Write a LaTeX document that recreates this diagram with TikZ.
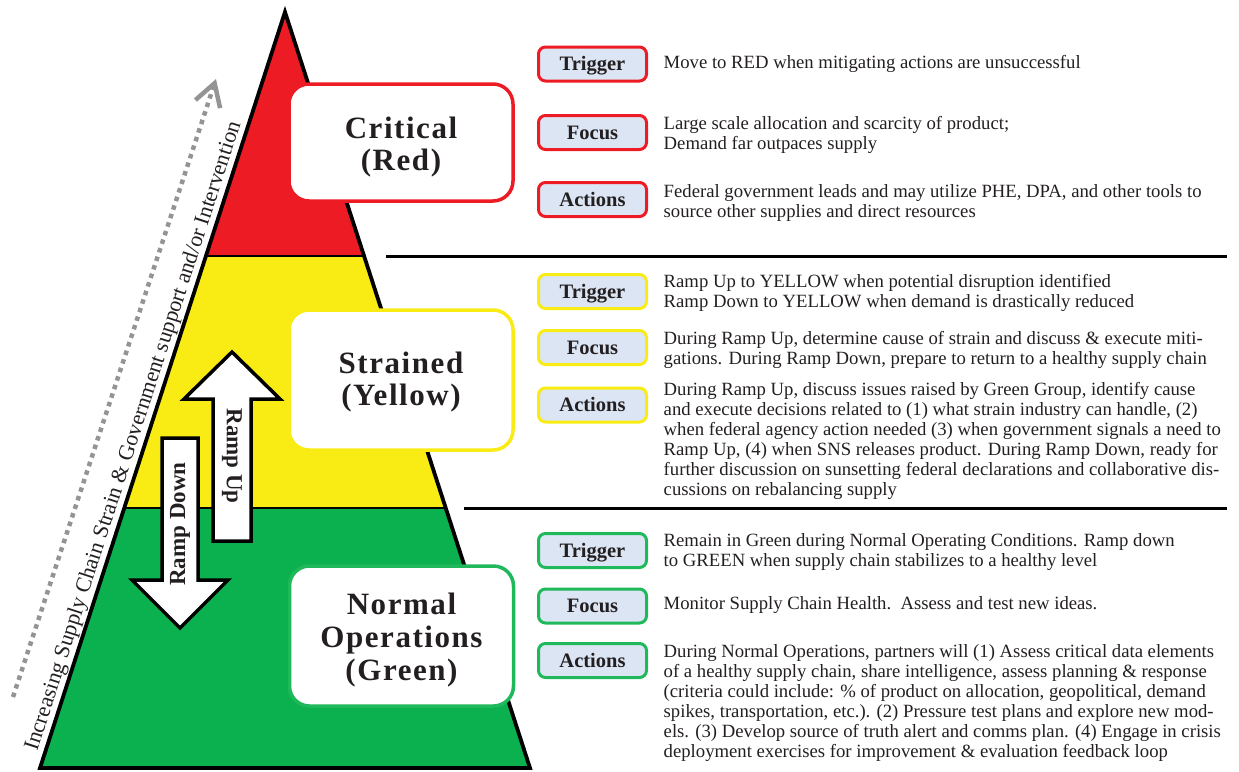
\documentclass[tikz,border=0pt]{standalone}
\usepackage{fontspec}
\setmainfont{Liberation Serif}
\newfontfamily\titlefont[LetterSpace=5]{Liberation Serif}
\usetikzlibrary{arrows.meta,calc}
\definecolor{pyrred}{HTML}{ED1C24}
\definecolor{pyryel}{HTML}{F9EC15}
\definecolor{pyrgrn}{HTML}{0BB14F}
\definecolor{boxgrn}{HTML}{1FB85A}
\definecolor{lblfill}{HTML}{DBE5F3}
\definecolor{txt}{HTML}{231F20}
\definecolor{dotgray}{HTML}{949494}
\begin{document}
\begin{tikzpicture}[x=1pt,y=-1pt,
  bigbox/.style={draw=#1, line width=3.5pt, fill=white, rounded corners=20pt, minimum width=224pt, inner sep=0pt},
  lbl/.style={draw=#1, line width=3pt, fill=lblfill, rounded corners=7pt, minimum width=108pt, minimum height=34pt, inner sep=0pt, font=\fontsize{20.5}{24}\selectfont\bfseries, text=txt, text height=13.6pt, text depth=0pt},
  body/.style={anchor=north west, inner sep=0pt, align=left, font=\fontsize{18.7}{20}\selectfont, text=txt},
  title/.style={align=center, inner sep=0pt, text=txt, font=\fontsize{31}{#1}\titlefont\bfseries},
  ramp/.style={fill=white, draw=black, line width=3.5pt, line join=miter},
  ramptext/.style={font=\fontsize{23}{26}\selectfont\bfseries, text=txt, inner sep=0pt},
  sep/.style={line width=3pt}
]
\useasboundingbox (0,0) rectangle (1239,771);

% pyramid
\coordinate (A) at (285,12);
\coordinate (L) at (40,768);
\coordinate (R) at (530,768);
\coordinate (L1) at ($(L)!0.6772!(A)$);
\coordinate (R1) at ($(R)!0.6772!(A)$);
\coordinate (L2) at ($(L)!0.3439!(A)$);
\coordinate (R2) at ($(R)!0.3439!(A)$);
\fill[pyrred] (A) -- (L1) -- (R1) -- cycle;
\fill[pyryel] (L1) -- (R1) -- (R2) -- (L2) -- cycle;
\fill[pyrgrn] (L2) -- (R2) -- (R) -- (L) -- cycle;
\draw[line width=2.5pt] (L1) -- (R1) (L2) -- (R2);
\draw[line width=3.8pt, line join=miter, miter limit=10] (A) -- (L) -- (R) -- cycle;

% separators
\draw[sep] (386,256) -- (1227,256);
\draw[sep] (464,508) -- (1227,508);

% dotted axis arrow and its text
\coordinate (gs) at (13,697);
\coordinate (ge) at (216,79);
\draw[dotgray, line width=4.5pt, dash pattern=on 4.5pt off 4.5pt,
  -{Straight Barb[length=22pt,width=26pt,line width=4.5pt]}] (gs) -- (ge);
\node[font=\fontsize{22}{26}\selectfont, text=txt, rotate=72.04, anchor=base, inner sep=0pt] (axis) at (138.9,437.9)
  {Increasing Supply Chain Strain \& Government support and/or Intervention};

% ramp arrows
\draw[ramp] (213,541) -- (213,399) -- (184,399) -- (232,352) -- (280,399) -- (251,399) -- (251,541) -- cycle;
\node[ramptext, rotate=-90] (up) at (232,456) {Ramp Up};
\draw[ramp] (162,438) -- (198,438) -- (198,580) -- (228,580) -- (180,628) -- (132,580) -- (162,580) -- cycle;
\node[ramptext, rotate=90] (down) at (180,524) {Ramp Down};

% level boxes
\node[bigbox=pyrred, minimum height=117pt] (crit) at (401,142.5) {};
\node[title=32] (critt) at (401,147.6) {\strut Critical\\\strut(Red)};
\node[bigbox=pyryel, minimum height=140pt] (strn) at (401,380) {};
\node[title=32] (strnt) at (401,382.6) {\strut Strained\\\strut(Yellow)};
\node[bigbox=boxgrn, minimum height=140pt] (norm) at (401.5,636) {};
\node[title=33] (normt) at (401.5,640.4) {\strut Normal\\\strut Operations\\\strut(Green)};

% red
\node[lbl=pyrred] (rt) at (592.5,64) {Trigger};
\node[lbl=pyrred] (rf) at (592.5,132.5) {Focus};
\node[lbl=pyrred] (ra) at (592.5,199.5) {Actions};
\node[body] (rtx) at (663.5,54) {\strut Move to RED when mitigating actions are unsuccessful};
\node[body] (rfx) at (663.5,115) {\strut Large scale allocation and scarcity of product;\\Demand far outpaces supply};
\node[body] (rax) at (663.5,183) {\strut Federal government leads and may utilize PHE, DPA, and other tools to\\source other supplies and direct resources};

% yellow
\node[lbl=pyryel] (yt) at (592.5,291.5) {Trigger};
\node[lbl=pyryel] (yf) at (592.5,347.5) {Focus};
\node[lbl=pyryel] (ya) at (592.5,405) {Actions};
\node[body] (ytx) at (663.5,273) {\strut Ramp Up to YELLOW when potential disruption identified\\Ramp Down to YELLOW when demand is drastically reduced};
\node[body] (yfx) at (663.5,330) {\strut During Ramp Up, determine cause of strain and discuss \& execute miti-\\gations. During Ramp Down, prepare to return to a healthy supply chain};
\node[body] (yax) at (663.5,381) {\strut During Ramp Up, discuss issues raised by Green Group, identify cause\\and execute decisions related to (1) what strain industry can handle, (2)\\when federal agency action needed (3) when government signals a need to\\Ramp Up, (4) when SNS releases product. During Ramp Down, ready for\\further discussion on sunsetting federal declarations and collaborative dis-\\cussions on rebalancing supply};

% green
\node[lbl=boxgrn] (gt) at (592.5,550.5) {Trigger};
\node[lbl=boxgrn] (gf) at (592.5,606) {Focus};
\node[lbl=boxgrn] (ga) at (592.5,660.5) {Actions};
\node[body] (gtx) at (663.5,532) {\strut Remain in Green during Normal Operating Conditions. Ramp down\\to GREEN when supply chain stabilizes to a healthy level};
\node[body] (gfx) at (663.5,595) {\strut Monitor Supply Chain Health.\ \ Assess and test new ideas.};
\node[body] (gax) at (663.5,643) {\strut During Normal Operations, partners will (1) Assess critical data elements\\of a healthy supply chain, share intelligence, assess planning \& response\\(criteria could include: \% of product on allocation, geopolitical, demand\\spikes, transportation, etc.). (2) Pressure test plans and explore new mod-\\els. (3) Develop source of truth alert and comms plan. (4) Engage in crisis\\deployment exercises for improvement \& evaluation feedback loop};
\end{tikzpicture}
\end{document}
